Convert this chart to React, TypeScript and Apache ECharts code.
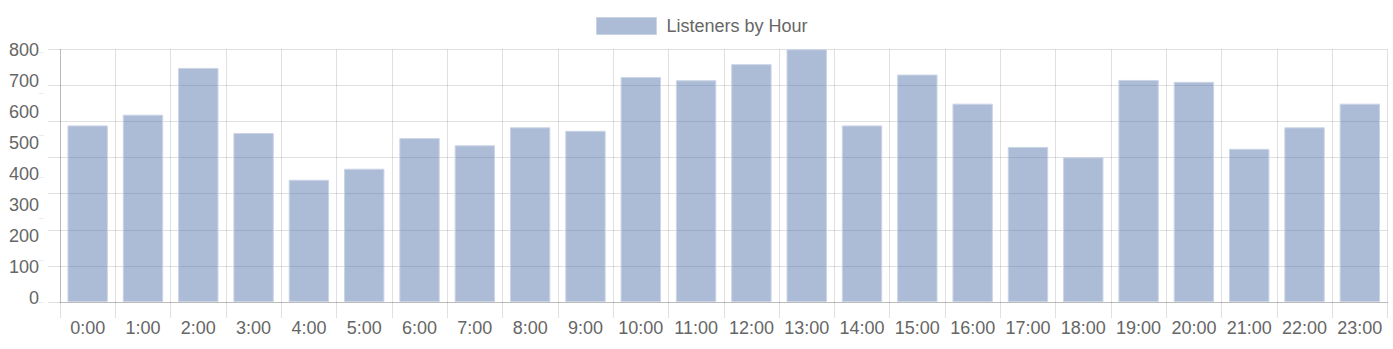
import React, { useEffect, useRef } from "react";
import * as echarts from "echarts";

const hours = [
  "0:00", "1:00", "2:00", "3:00", "4:00", "5:00", "6:00", "7:00",
  "8:00", "9:00", "10:00", "11:00", "12:00", "13:00", "14:00", "15:00",
  "16:00", "17:00", "18:00", "19:00", "20:00", "21:00", "22:00", "23:00",
];
const listeners = [
  559, 593, 741, 535, 387, 422, 519, 496,
  553, 542, 712, 702, 753, 800, 559, 720,
  628, 491, 458, 703, 697, 485, 553, 628,
];
const seriesName = "Listeners by Hour";
const yMax = 800;
const yStep = 100;

const FONT = "'Liberation Sans', Arial, Helvetica, sans-serif";
const GRID_COLOR = "rgba(0,0,0,0.12)";
const TEXT = "#666";
const BAR = "rgba(75,108,165,0.46)";
const BAR_BORDER = "#cbd4e5";

export default function App() {
  const ref = useRef<HTMLDivElement>(null);
  useEffect(() => {
    if (!ref.current) return;
    const chart = echarts.init(ref.current, null, { renderer: "svg" });
    chart.setOption({
      animation: false,
      backgroundColor: "#fff",
      textStyle: { fontFamily: FONT },
      legend: {
        left: 596,
        top: 17,
        padding: 0,
        itemWidth: 60,
        itemHeight: 17,
        icon: "rect",
        data: [seriesName],
        textStyle: { fontSize: 18, color: TEXT, fontFamily: FONT, padding: [0, 0, 0, 5] },
        itemStyle: { color: BAR, borderColor: BAR_BORDER, borderWidth: 1 },
      },
      grid: [
        { left: 60, width: 1327.5, top: 49.3, height: 252.7 },
        { left: 60, width: 1327.5, top: 49.7, height: 247.8 },
        { left: 60, width: 1327.5, top: 52, height: 250 },
      ],
      xAxis: [
        {
          type: "category",
          gridIndex: 0,
          data: hours,
          boundaryGap: true,
          axisLine: { show: true, lineStyle: { color: "rgba(0,0,0,0.16)" } },
          axisTick: { show: true, length: 16, lineStyle: { color: GRID_COLOR } },
          splitLine: { show: true, lineStyle: { color: GRID_COLOR } },
          axisLabel: { fontSize: 18, color: TEXT, margin: 17, fontFamily: FONT, interval: 0 },
        },
        { type: "category", gridIndex: 1, data: hours, show: false },
        { type: "category", gridIndex: 2, data: hours, show: false },
      ],
      yAxis: [
        { type: "value", gridIndex: 0, min: 0, max: yMax, show: false, splitLine: { show: false } },
        {
          type: "value",
          gridIndex: 0,
          position: "left",
          min: 0,
          max: 7,
          interval: 1,
          axisLine: { show: true, lineStyle: { color: "rgba(0,0,0,0.16)" } },
          axisTick: { show: true, length: 12, lineStyle: { color: GRID_COLOR } },
          axisLabel: { show: false },
          splitLine: { show: true, lineStyle: { color: GRID_COLOR } },
        },
        {
          type: "value",
          gridIndex: 1,
          position: "left",
          min: 0,
          max: yMax,
          interval: yStep,
          axisLine: { show: false },
          axisTick: { show: false },
          splitLine: { show: false },
          axisLabel: { fontSize: 18, color: TEXT, margin: 21, fontFamily: FONT },
        },
        {
          type: "value",
          gridIndex: 2,
          position: "left",
          offset: 16,
          min: 0,
          max: 6,
          interval: 1,
          axisLine: { show: false },
          axisTick: { show: true, length: 5, lineStyle: { color: "rgba(0,0,0,0.08)" } },
          axisLabel: { show: false },
          splitLine: { show: false },
        },
      ],
      series: [
        {
          name: seriesName,
          type: "bar",
          xAxisIndex: 0,
          yAxisIndex: 0,
          data: listeners,
          barWidth: "73%",
          itemStyle: { color: BAR, borderColor: BAR_BORDER, borderWidth: 1 },
        },
      ],
    });
    return () => chart.dispose();
  }, []);
  return (
    <div
      ref={ref}
      style={{ position: "fixed", left: 0, top: 0, width: 1393, height: 349 }}
    />
  );
}
